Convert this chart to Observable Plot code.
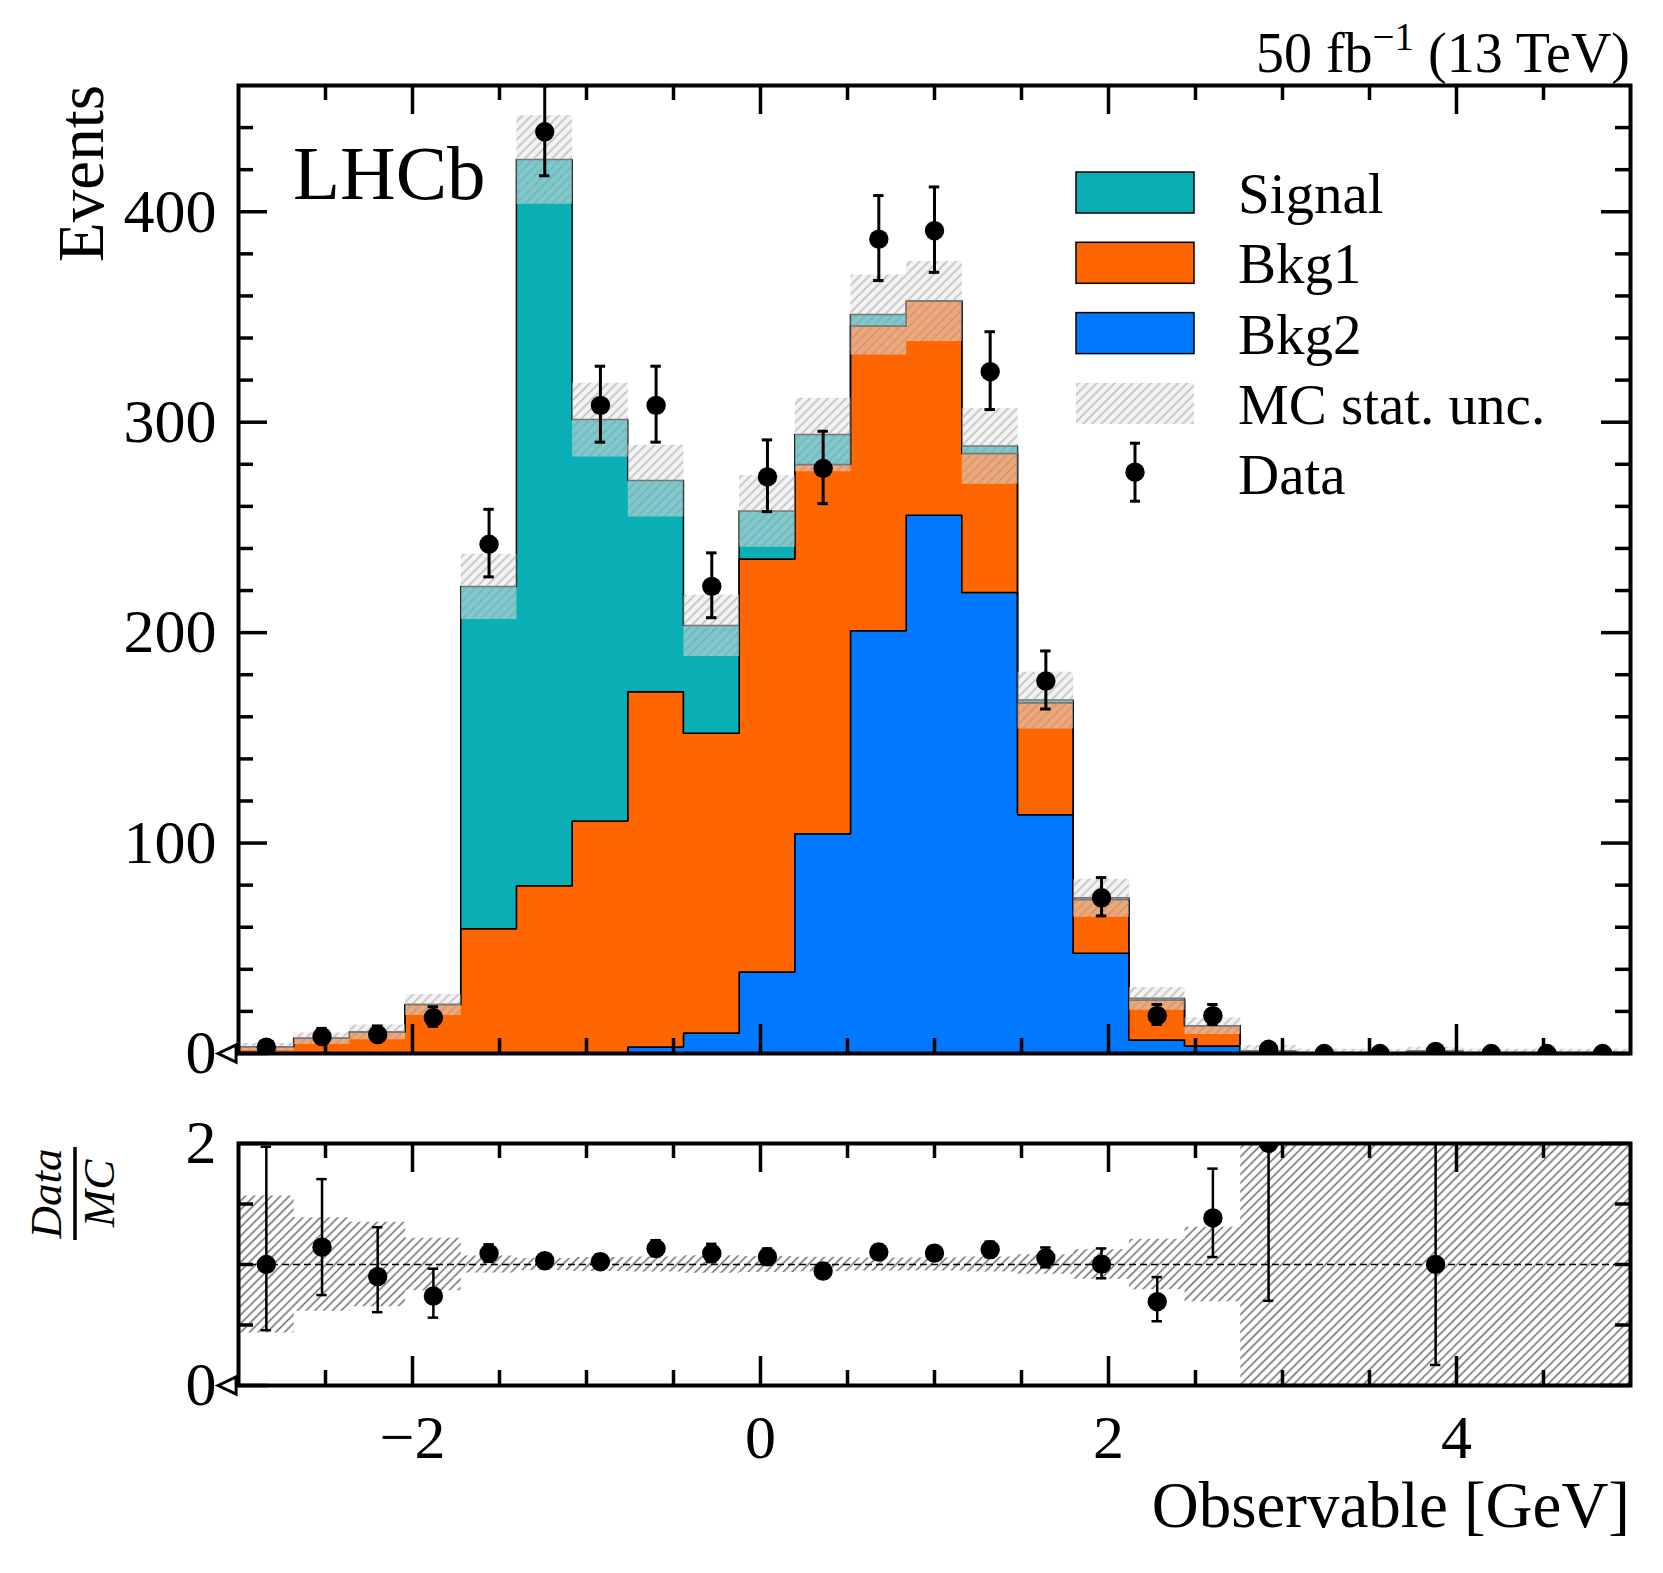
<!DOCTYPE html>
<html><head><meta charset="utf-8">
<script src="https://cdn.jsdelivr.net/npm/d3@7"></script>
<script src="https://cdn.jsdelivr.net/npm/@observablehq/plot@0.6"></script>
<style>
html,body{margin:0;padding:0;background:#fff;}
#wrap{position:relative;width:1663px;height:1573px;overflow:hidden;font-family:"Liberation Serif","Times New Roman",serif;}
#wrap > svg{position:absolute;left:0;margin:0;}
</style></head><body><div id="wrap"></div>
<script>
// ---- data ----
const binEdges = [-3, -2.68, -2.36, -2.04, -1.72, -1.4, -1.08, -0.76, -0.44, -0.12, 0.2, 0.52, 0.84, 1.16, 1.48, 1.8, 2.12, 2.44, 2.76, 3.08, 3.4, 3.72, 4.04, 4.36, 4.68, 5];
const signal = [0, 0, 0, 0, 162.7, 345.1, 190.8, 100.3, 51.3, 22.8, 14.3, 5.4, 0, 3.6, 1.2, 0.8, 0.8, 0, 0, 0, 0, 0, 0, 0, 0];
const bkg1   = [3, 7, 10, 23, 59, 79.5, 110.2, 168.8, 142.4, 196.3, 175.4, 144.8, 101.8, 66.1, 53.3, 25.6, 19, 9.7, 0.5, 0, 0, 1, 0, 0, 0];
const bkg2   = [0, 0, 0, 0, 0, 0, 0, 2.9, 9.5, 38.5, 104.2, 200.7, 255.6, 218.8, 113.2, 47.4, 6.2, 3.3, 0.5, 0, 0, 0, 0, 0, 0];
const mcStatErr = [1.7, 2.7, 3.5, 5, 15.5, 21, 17.5, 17, 14.6, 17, 17.5, 19, 19, 18, 13.5, 9, 5.4, 4, 2.8, 2, 2, 2, 2, 2, 2];
const dataCounts = [3, 8, 9, 17, 242, 438, 308, 308, 222, 274, 278, 387, 391, 324, 177, 74, 18, 18, 2, 0, 0, 1, 0, 0, 0];
const dataErrLow  = [1.63, 2.77, 2.94, 4.1, 15.5, 20.9, 17.5, 17.5, 14.9, 16.5, 16.7, 19.7, 19.8, 18, 13.3, 8.6, 4.2, 4.2, 1.3, 0, 0, 0.83, 0, 0, 0];
const dataErrHigh = [2.92, 3.94, 4.08, 5.2, 16.6, 21.9, 18.6, 18.6, 15.9, 17.6, 17.7, 20.7, 20.8, 19, 14.3, 9.6, 5.3, 5.3, 2.64, 1.84, 1.84, 2.3, 1.84, 1.84, 1.84];

const legendLabels = ["Signal", "Bkg1", "Bkg2", "MC stat. unc.", "Data"];
const yTicksMain = [0, 100, 200, 300, 400];
const yMinorMain = [20, 40, 60, 80, 120, 140, 160, 180, 220, 240, 260, 280, 320, 340, 360, 380, 420, 440];
const xTicks = [-2, 0, 2, 4];
const xMinor = [-2.5, -1.5, -1, -0.5, 0.5, 1, 1.5, 2.5, 3, 3.5, 4.5];
const yTicksRatio = [0, 2];
const yMinorRatio = [0.5, 1, 1.5];

const colors = {signal: "#0aafb6", bkg1: "#ff6600", bkg2: "#0078ff"};
const FONT = "Liberation Serif";

// ---- derived rows ----
const nb = dataCounts.length;
const clamp = v => Math.max(0, Math.min(2, v));
const bins = d3.range(nb).map(i => {
  const b2 = bkg2[i], c1 = b2 + bkg1[i], tot = c1 + signal[i];
  return {
    x0: binEdges[i], xc: (binEdges[i] + binEdges[i + 1]) / 2,
    b2, c1, tot, err: mcStatErr[i],
    n: dataCounts[i], lo: dataErrLow[i], hi: dataErrHigh[i],
    r: dataCounts[i] / tot,
    rlo: (dataCounts[i] - dataErrLow[i]) / tot,
    rhi: (dataCounts[i] + dataErrHigh[i]) / tot,
    blo: clamp(1 - mcStatErr[i] / tot),
    bhi: clamp(1 + mcStatErr[i] / tot)
  };
});
const stepRows = bins.map(b => ({...b, x: b.x0})).concat([{...bins[nb - 1], x: binEdges[nb]}]);
const ratioBins = bins.filter(b => isFinite(b.r));
const capHalf = 0.03;

// ---- layout ----
const W = 1663;
const M = {l: 238, r: 33};
const mainH = 1060, mainT = 85, mainB = 7;
const ratioTop = 1060, ratioH = 513, ratioT = 83, ratioB = 188;
const PW = W - M.l - M.r;

function frameTicks(ph) {
  const sw = 3.5, maj = 29, mi = 15;
  return (xMaj, xMin, yMaj, yMin) => [
    Plot.tickY(yMaj, {y: d => d, insetRight: PW - maj, strokeWidth: sw}),
    Plot.tickY(yMaj, {y: d => d, insetLeft: PW - maj, strokeWidth: sw}),
    Plot.tickY(yMin, {y: d => d, insetRight: PW - mi, strokeWidth: sw}),
    Plot.tickY(yMin, {y: d => d, insetLeft: PW - mi, strokeWidth: sw}),
    Plot.tickX(xMaj, {x: d => d, insetBottom: ph - maj, strokeWidth: sw}),
    Plot.tickX(xMaj, {x: d => d, insetTop: ph - maj, strokeWidth: sw}),
    Plot.tickX(xMin, {x: d => d, insetBottom: ph - mi, strokeWidth: sw}),
    Plot.tickX(xMin, {x: d => d, insetTop: ph - mi, strokeWidth: sw})
  ];
}

const leftTriangle = {
  draw(ctx, size) {
    const r = Math.sqrt(size / Math.PI);
    ctx.moveTo(-1.1 * r, 0);
    ctx.lineTo(0.9 * r, -0.95 * r);
    ctx.lineTo(0.9 * r, 0.95 * r);
    ctx.closePath();
  }
};
const zeroMarker = () => Plot.dot([0], {frameAnchor: "bottom-left", dx: -10.5, symbol: leftTriangle, r: 9, fill: "white", stroke: "black", strokeWidth: 3});

function addPattern(svg, id, spacing, color, opacity, width) {
  const defs = d3.select(svg).insert("defs", ":first-child");
  const p = defs.append("pattern").attr("id", id).attr("patternUnits", "userSpaceOnUse")
    .attr("width", spacing).attr("height", spacing).attr("patternTransform", "rotate(45)");
  p.append("line").attr("x1", spacing / 2).attr("y1", -1).attr("x2", spacing / 2).attr("y2", spacing + 1)
    .attr("stroke", color).attr("stroke-opacity", opacity).attr("stroke-width", width);
}

// ---- main panel ----
const mainPH = mainH - mainT - mainB;
const main = Plot.plot({
  width: W, height: mainH, marginLeft: M.l, marginRight: M.r, marginTop: mainT, marginBottom: mainB,
  x: {domain: [-3, 5], axis: null},
  y: {domain: [0, 460]},
  style: {fontFamily: FONT, background: "transparent", overflow: "visible", color: "black"},
  marks: [
    Plot.areaY(stepRows, {x: "x", y1: 0, y2: "b2", curve: "step-after", fill: colors.bkg2, stroke: "black", strokeWidth: 1.5, clip: true}),
    Plot.areaY(stepRows, {x: "x", y1: "b2", y2: "c1", curve: "step-after", fill: colors.bkg1, stroke: "black", strokeWidth: 1.5, clip: true}),
    Plot.areaY(stepRows, {x: "x", y1: "c1", y2: "tot", curve: "step-after", fill: colors.signal, stroke: "black", strokeWidth: 1.5, clip: true}),
    Plot.areaY(stepRows, {x: "x", y1: d => d.tot - d.err, y2: d => d.tot + d.err, curve: "step-after", fill: "#e8e8e8", fillOpacity: 0.5, clip: true}),
    Plot.areaY(stepRows, {x: "x", y1: d => d.tot - d.err, y2: d => d.tot + d.err, curve: "step-after", fill: "url(#hatchMain)", clip: true}),
    Plot.frame({stroke: "black", strokeWidth: 4}),
    ...frameTicks(mainPH)(xTicks, xMinor, yTicksMain, yMinorMain),
    Plot.axisY({ticks: yTicksMain, tickFormat: d3.format("d"), tickSize: 0, tickPadding: 22, fontSize: 62, label: null}),
    zeroMarker(),
    Plot.ruleX(bins, {x: "xc", y1: d => d.n - d.lo, y2: d => d.n + d.hi, strokeWidth: 3, clip: true}),
    Plot.ruleY(bins, {y: d => d.n + d.hi, x1: d => d.xc - capHalf, x2: d => d.xc + capHalf, strokeWidth: 3, clip: true}),
    Plot.ruleY(bins, {y: d => d.n - d.lo, x1: d => d.xc - capHalf, x2: d => d.xc + capHalf, strokeWidth: 3, clip: true}),
    Plot.dot(bins, {x: "xc", y: "n", r: 9.7, fill: "black", clip: true})
  ]
});
addPattern(main, "hatchMain", 6.4, "#909090", 0.55, 1.6);
main.style.top = "0px";

// ---- ratio panel ----
const ratioPH = ratioH - ratioT - ratioB;
const ratio = Plot.plot({
  width: W, height: ratioH, marginLeft: M.l, marginRight: M.r, marginTop: ratioT, marginBottom: ratioB,
  x: {domain: [-3, 5]},
  y: {domain: [0, 2]},
  style: {fontFamily: FONT, background: "transparent", overflow: "visible", color: "black"},
  marks: [
    Plot.areaY(stepRows, {x: "x", y1: "blo", y2: "bhi", curve: "step-after", fill: "url(#hatchRatio)", clip: true}),
    Plot.ruleY([1], {stroke: "black", strokeWidth: 1.6, strokeDasharray: "7,4"}),
    Plot.frame({stroke: "black", strokeWidth: 4}),
    ...frameTicks(ratioPH)(xTicks, xMinor, yTicksRatio, yMinorRatio),
    Plot.axisY({ticks: yTicksRatio, tickFormat: d3.format("d"), tickSize: 0, tickPadding: 22, fontSize: 62, label: null}),
    Plot.axisX({ticks: xTicks, tickSize: 0, tickPadding: 28, fontSize: 62, label: null}),
    zeroMarker(),
    Plot.ruleX(ratioBins, {x: "xc", y1: "rlo", y2: "rhi", strokeWidth: 2.5, clip: true}),
    Plot.ruleY(ratioBins, {y: "rhi", x1: d => d.xc - capHalf, x2: d => d.xc + capHalf, strokeWidth: 2.5, clip: true}),
    Plot.ruleY(ratioBins, {y: "rlo", x1: d => d.xc - capHalf, x2: d => d.xc + capHalf, strokeWidth: 2.5, clip: true}),
    Plot.dot(ratioBins, {x: "xc", y: "r", r: 9.7, fill: "black", clip: true})
  ]
});
addPattern(ratio, "hatchRatio", 6.2, "#505050", 0.85, 1.5);
ratio.style.top = ratioTop + "px";

const wrap = document.getElementById("wrap");
wrap.appendChild(main);
wrap.appendChild(ratio);

// ---- annotations & legend ----
const ov = d3.create("svg").attr("width", W).attr("height", 1573)
  .style("position", "absolute").style("left", "0px").style("top", "0px")
  .style("font-family", FONT).style("pointer-events", "none");
addPattern(ov.node(), "hatchLegend", 6.4, "#909090", 0.55, 1.6);

const title = ov.append("text").attr("x", W - M.r).attr("y", 72).attr("text-anchor", "end").attr("font-size", 56);
title.append("tspan").text("50 fb");
title.append("tspan").attr("dy", -22).attr("font-size", 39).text("−1");
title.append("tspan").attr("dy", 22).text(" (13 TeV)");

ov.append("text").attr("x", 293).attr("y", 199).attr("font-size", 77).text("LHCb");

ov.append("text").attr("transform", `translate(103,${mainT}) rotate(-90)`)
  .attr("text-anchor", "end").attr("font-size", 65).text("Events");

ov.append("text").attr("x", W - M.r).attr("y", 1527).attr("text-anchor", "end").attr("font-size", 65).text("Observable [GeV]");

const frac = ov.append("g").attr("transform", "translate(75,1193.5) rotate(-90)");
frac.append("text").attr("x", 0).attr("y", -14).attr("text-anchor", "middle").attr("font-size", 45).attr("font-style", "italic").text("Data");
frac.append("text").attr("x", 0).attr("y", 39).attr("text-anchor", "middle").attr("font-size", 45).attr("font-style", "italic").text("MC");
frac.append("line").attr("x1", -46.5).attr("x2", 46.5).attr("y1", 0).attr("y2", 0).attr("stroke", "black").attr("stroke-width", 3.5);

const legFills = [colors.signal, colors.bkg1, colors.bkg2];
const legX = 1076, legW = 118, legH = 41, legTop = 172, legStep = 70.3, legTextX = 1238;
legendLabels.forEach((lab, i) => {
  const top = legTop + i * legStep;
  if (i < 3) {
    ov.append("rect").attr("x", legX).attr("y", top).attr("width", legW).attr("height", legH)
      .attr("fill", legFills[i]).attr("stroke", "black").attr("stroke-width", 1.5);
  } else if (i === 3) {
    ov.append("rect").attr("x", legX).attr("y", top).attr("width", legW).attr("height", legH).attr("fill", "#e8e8e8").attr("fill-opacity", 0.5);
    ov.append("rect").attr("x", legX).attr("y", top).attr("width", legW).attr("height", legH).attr("fill", "url(#hatchLegend)");
  } else {
    const cx = legX + legW / 2, cy = top + 19;
    ov.append("line").attr("x1", cx).attr("x2", cx).attr("y1", cy - 29).attr("y2", cy + 29).attr("stroke", "black").attr("stroke-width", 3);
    ov.append("line").attr("x1", cx - 5).attr("x2", cx + 5).attr("y1", cy - 29).attr("y2", cy - 29).attr("stroke", "black").attr("stroke-width", 3);
    ov.append("line").attr("x1", cx - 5).attr("x2", cx + 5).attr("y1", cy + 29).attr("y2", cy + 29).attr("stroke", "black").attr("stroke-width", 3);
    ov.append("circle").attr("cx", cx).attr("cy", cy).attr("r", 9.7).attr("fill", "black");
  }
  ov.append("text").attr("x", legTextX).attr("y", top + legH).attr("font-size", 57).text(lab);
});
wrap.appendChild(ov.node());
</script></body></html>
